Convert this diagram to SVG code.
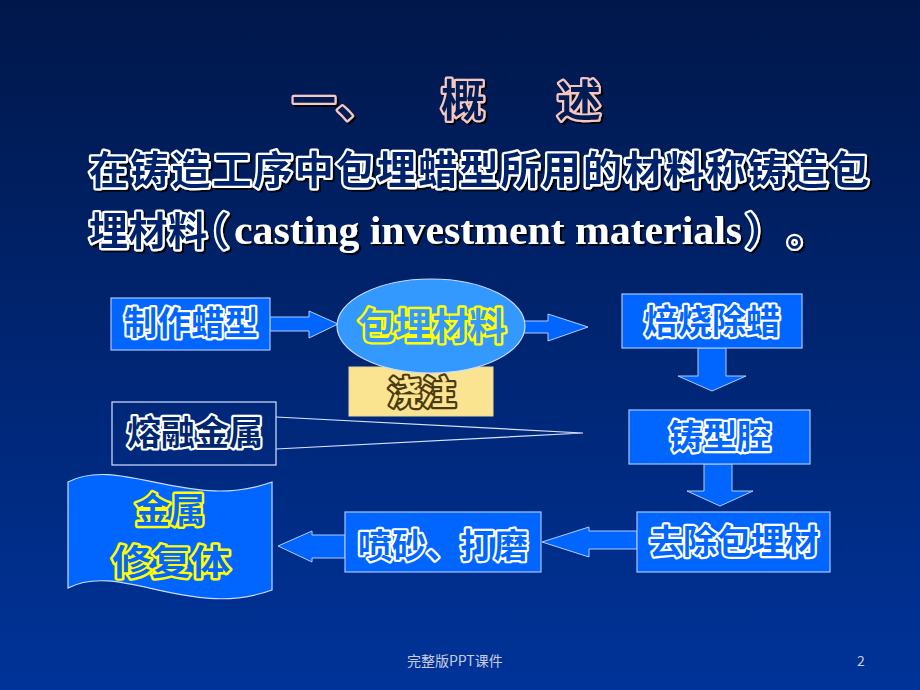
<svg xmlns="http://www.w3.org/2000/svg" width="920" height="690" viewBox="0 0 920 690">
<defs>
<linearGradient id="bg" x1="0" y1="0" x2="0" y2="1">
<stop offset="0" stop-color="#00174a"/>
<stop offset="1" stop-color="#003399"/>
</linearGradient>
<filter id="sh" x="-5%" y="-25%" width="115%" height="160%">
<feDropShadow dx="2" dy="2" stdDeviation="0.5" flood-color="#000000" flood-opacity="0.85"/>
</filter>
</defs>
<style>
.cjk{font-family:"Noto Sans CJK SC","Noto Sans CJK JP",sans-serif;font-weight:700;paint-order:stroke;stroke-linejoin:round;text-spacing-trim:space-all;}
.palt{font-feature-settings:"palt" 1;}
.ttl{fill:#001c55;stroke:#f8c8c0;stroke-width:4.4;}
.bod{fill:#00236a;stroke:#ffffff;stroke-width:4.6;}
.wt{fill:#0066ff;stroke:#ffffff;stroke-width:4.4;}
.dk{fill:#00266e;stroke:#ffffff;stroke-width:4.4;}
.yt{stroke:#ffff00;stroke-width:4.8;}
.bt{fill:#fae391;stroke:#4a3a12;stroke-width:4.4;}
.lat{font-family:"Liberation Serif","Times New Roman",serif;font-weight:bold;fill:#ffffff;}
.box{fill:#0066ff;stroke:#a8c4ff;stroke-width:1.2;}
.arrow{fill:#0066ff;stroke:#b0ccff;stroke-width:1;}
.thin{fill:none;stroke:#d8e2ff;stroke-width:1.2;}
.foot{font-family:"Noto Sans CJK SC","Liberation Sans",sans-serif;fill:#c8cce0;font-size:14px;}
</style>
<rect width="920" height="690" fill="url(#bg)"/>

<g id="title" filter="url(#sh)">
<text class="cjk ttl" x="292" y="117" font-size="44">一、</text>
<text class="cjk ttl" x="441" y="117" font-size="44">概</text>
<text class="cjk ttl" x="557" y="117" font-size="44">述</text>
</g>

<g id="intro" filter="url(#sh)">
<text class="cjk bod" x="89" y="184" font-size="39" textLength="780" lengthAdjust="spacing">在铸造工序中包埋蜡型所用的材料称铸造包</text>
<text class="cjk bod" x="89" y="245" font-size="39" textLength="118" lengthAdjust="spacing">埋材料</text>
<text class="cjk bod palt" x="208" y="245" font-size="39">（</text>
<text class="lat" x="234" y="244" font-size="40" textLength="508" lengthAdjust="spacingAndGlyphs">casting investment materials</text>
<text class="cjk bod" x="745" y="245" font-size="39">）</text>
<text class="cjk bod" x="787" y="245" font-size="39">。</text>
</g>

<g id="connectors">
<polygon class="arrow" points="270,317 309,317 309,311 338,324 309,338 309,331 270,331"/>
<polygon class="arrow" points="520,321 548,321 548,314 588,327 548,341 548,333 520,333"/>
<polygon class="arrow" points="698,348 726,348 726,376 746,376 712,391 678,376 698,376"/>
<polygon class="arrow" points="704,464 732,464 732,491 753,491 720,506 687,491 704,491"/>
<polygon class="arrow" points="637,531 589,531 589,527 542,542 589,557 589,549 637,549"/>
<polygon class="arrow" points="345,535 312,535 312,531 278,546 312,562 312,558 345,558"/>
<polyline class="thin" points="276,417 583,433 276,449"/>
</g>

<g id="n-wax">
<rect class="box" x="111" y="298" width="159" height="52"/>
<text class="cjk wt" x="124" y="335" font-size="33" textLength="134" lengthAdjust="spacing">制作蜡型</text>
</g>

<g id="n-pour">
<rect x="349" y="367" width="144" height="49" fill="#fae391" stroke="#e8d8a0" stroke-width="1"/>
<text class="cjk bt" x="422" y="405" font-size="34" text-anchor="middle">浇注</text>
</g>

<g id="n-invest">
<ellipse cx="431" cy="326" rx="94" ry="47" fill="#3399ff" stroke="#c8dcff" stroke-width="1.2"/>
<text class="cjk yt" x="432" y="340" font-size="37" text-anchor="middle" fill="#3399ff">包埋材料</text>
</g>

<g id="n-burn">
<rect class="box" x="622" y="294" width="180" height="54"/>
<text class="cjk wt" x="712" y="334" font-size="34" text-anchor="middle">焙烧除蜡</text>
</g>

<g id="n-cavity">
<rect class="box" x="629" y="410" width="181" height="54"/>
<text class="cjk wt" x="720" y="449" font-size="34" text-anchor="middle">铸型腔</text>
</g>

<g id="n-melt">
<rect x="112" y="402" width="164" height="63" fill="none" stroke="#d8e2ff" stroke-width="1.2"/>
<text class="cjk dk" x="195" y="445" font-size="34" text-anchor="middle">熔融金属</text>
</g>

<g id="n-remove">
<rect class="box" x="637" y="512" width="193" height="60"/>
<text class="cjk wt" x="734" y="554" font-size="34" text-anchor="middle">去除包埋材</text>
</g>

<g id="n-polish">
<rect class="box" x="345" y="512" width="196" height="60"/>
<text class="cjk wt" x="443" y="558" font-size="34" text-anchor="middle">喷砂、打磨</text>
</g>

<g id="n-restoration">
<path d="M68,482 C120,455 190,512 272,482 L272,590 C190,620 120,561 68,588 Z" fill="#0066ff" stroke="#c8dcff" stroke-width="1.2"/>
<text class="cjk yt" font-size="35" text-anchor="middle" fill="#0066ff"><tspan x="170" y="523">金属</tspan><tspan x="171" y="575" textLength="118" lengthAdjust="spacingAndGlyphs">修复体</tspan></text>
</g>

<g id="footer">
<text class="foot" x="407" y="666">完整版PPT课件</text>
<text class="foot" x="857" y="666" font-family="Liberation Sans">2</text>
</g>
</svg>
